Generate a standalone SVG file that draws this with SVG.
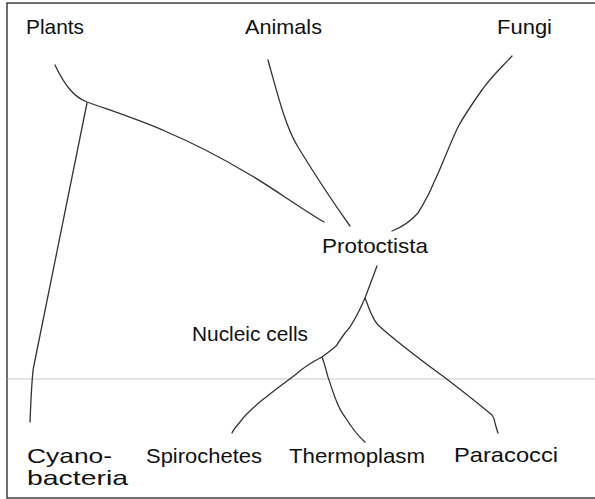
<svg xmlns="http://www.w3.org/2000/svg" width="595" height="499" viewBox="0 0 595 499">
<style>
.lbl{font-family:"Liberation Sans",Arial,sans-serif;font-size:21px;fill:#111}
.br{fill:none;stroke:#333;stroke-width:1.3;stroke-linecap:round;stroke-linejoin:round}
</style>
<rect x="0" y="0" width="595" height="499" fill="#fff"/>
<rect x="7" y="3" width="592" height="495" fill="none" stroke="#222" stroke-width="1.3"/>
<line x1="7" y1="379" x2="595" y2="379" stroke="#bbb" stroke-width="0.8"/>
<g id="connectors">
<path class="br" d="M55,65 C65,86 74,97 87,102 C115,112 140,120 167,132 C200,146 225,160 247,173 C270,186 300,208 324,222"/>
<path class="br" d="M87,103 L34,365 Q32,372 30,422"/>
<path class="br" d="M268,60 C278,96 286,128 298,147 C312,170 335,205 350,226"/>
<path class="br" d="M512,56 C502,67 490,78 482,90 C472,104 464,116 458,127 C448,148 442,166 435,180 C428,198 422,206 418,213 C410,222 400,228 392,231"/>
<path class="br" d="M377,266 L365,298 C358,314 352,326 345,333 C340,340 338,343 337,345 C332,350 327,353 322,357 C312,362 304,367 295,375 C275,390 250,408 240,422 C235,428 233,430 232,433"/>
<path class="br" d="M322,357 C324,362 326,370 328,377 C334,395 338,408 345,417 C352,428 358,436 365,442"/>
<path class="br" d="M365,298 C368,305 370,312 372,315 C374,320 376,323 378,325 C400,345 425,363 448,380 C465,393 480,405 492,415 C494,418 495,420 495,423 C496,427 497,430 498,433"/>
</g>
<g id="plants"><text class="lbl" x="26" y="34" textLength="58" lengthAdjust="spacingAndGlyphs">Plants</text></g>
<g id="animals"><text class="lbl" x="245" y="34" textLength="77" lengthAdjust="spacingAndGlyphs">Animals</text></g>
<g id="fungi"><text class="lbl" x="497" y="34" textLength="55" lengthAdjust="spacingAndGlyphs">Fungi</text></g>
<g id="protoctista"><text class="lbl" x="322" y="253" textLength="106" lengthAdjust="spacingAndGlyphs">Protoctista</text></g>
<g id="nucleic"><text class="lbl" x="192" y="341" textLength="116" lengthAdjust="spacingAndGlyphs">Nucleic cells</text></g>
<g id="cyanobacteria"><text class="lbl" x="27" y="463" textLength="85" lengthAdjust="spacingAndGlyphs">Cyano-</text><text class="lbl" x="27" y="485" textLength="101" lengthAdjust="spacingAndGlyphs">bacteria</text></g>
<g id="spirochetes"><text class="lbl" x="146" y="463" textLength="116" lengthAdjust="spacingAndGlyphs">Spirochetes</text></g>
<g id="thermoplasm"><text class="lbl" x="289" y="463" textLength="136" lengthAdjust="spacingAndGlyphs">Thermoplasm</text></g>
<g id="paracocci"><text class="lbl" x="454" y="462" textLength="104" lengthAdjust="spacingAndGlyphs">Paracocci</text></g>
</svg>
